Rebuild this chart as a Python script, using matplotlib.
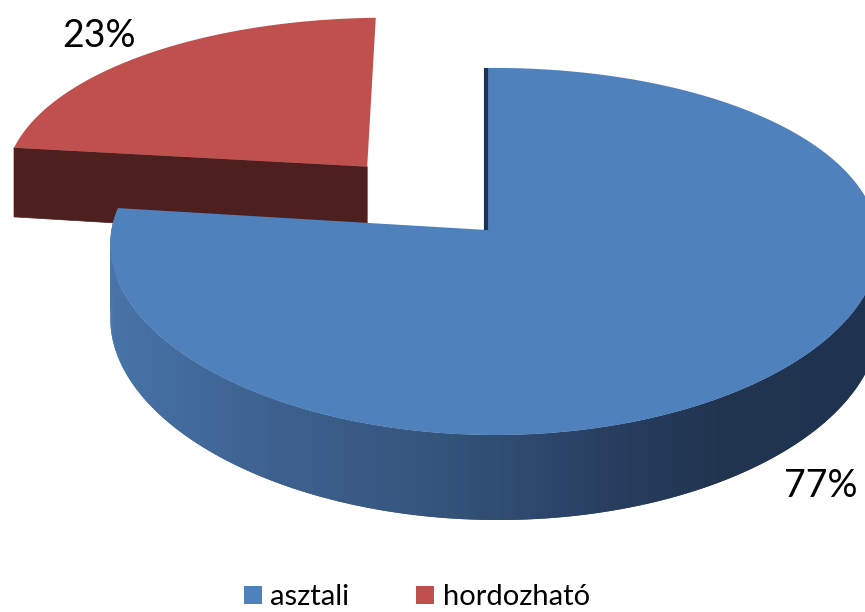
import numpy as np
import matplotlib
matplotlib.use("Agg")
import matplotlib.pyplot as plt
from matplotlib.patches import Polygon, Patch
from matplotlib.colors import to_rgb

plt.rcParams["font.family"] = ["Lato", "DejaVu Sans"]

# data
categories = ["asztali", "hordozható"]
shares = [77, 23]
explode = [0.0, 0.49]
top_colors = ["#4F81BD", "#C0504D"]
cut_colors = ["#1F3350", "#4E1F1F"]

# projection of the 3D disc (pixel units)
CX, CY = 487, 230
A, B, H = 383, 181, 75
KX, KY, M = 0.08, 0.117, 0.02

# side shading of the blue rim, by screen x
SIDE_X = [110, 200, 300, 450, 600, 720, 880]
SIDE_C = ["#4874A9", "#41699A", "#3C5F8C", "#33537A", "#283F61", "#20344F", "#1F3350"]


def project(u, v, z=0.0):
    u = np.asarray(u, float)
    v = np.asarray(v, float)
    dx = 1 + KX * v - M * u
    dy = 1 + KY * v - M * u
    x = CX + A * u / dx
    y = CY - B * v / dy + H * z / dy
    return x, y


def side_color(x):
    rgb = np.array([to_rgb(c) for c in SIDE_C])
    return tuple(np.interp(x, SIDE_X, rgb[:, i]) for i in range(3))


fig = plt.figure(figsize=(8.65, 6.12), dpi=100)
ax = fig.add_axes([0, 0, 1, 1])
ax.set_xlim(0, 865)
ax.set_ylim(612, 0)
ax.axis("off")

# slice angles, clockwise from 12 o'clock
spans = []
start = 90.0
for s in shares:
    end = start - 360.0 * s / sum(shares)
    spans.append((end, start))
    start = end

# exploded slice (drawn first, it sits behind)
t0, t1 = spans[1]
tb = np.radians((t0 + t1) / 2)
ou, ov = explode[1] * np.cos(tb), explode[1] * np.sin(tb)
ru, rv = ou + np.cos(np.radians(t1)), ov + np.sin(np.radians(t1))
xa, ya = project(ou, ov)
xab, yab = project(ou, ov, 1)
xr, yr = project(ru, rv)
xrb, yrb = project(ru, rv, 1)
ax.add_patch(Polygon([(xa, ya), (xr, yr), (xrb, yrb), (xab, yab)],
                     closed=True, fc=cut_colors[1], ec=cut_colors[1], lw=0.5))
t = np.radians(np.linspace(t0, t1, 200))
px, py = project(ou + np.cos(t), ov + np.sin(t))
ax.add_patch(Polygon(np.column_stack([np.r_[xa, px], np.r_[ya, py]]),
                     closed=True, fc=top_colors[1], ec="none"))

# main slice: rim strips back to front, then the top face
t0, t1 = spans[0]
edges = np.linspace(t0, 0.0, 260)
step = edges[1] - edges[0]
strips = []
for a, b in zip(edges[:-1], edges[1:]):
    tt = np.radians(np.linspace(a, b + step, 3))
    u, v = np.cos(tt), np.sin(tt)
    xt, yt = project(u, v)
    xb, yb = project(u, v, 1)
    pts = np.column_stack([np.r_[xt, xb[::-1]], np.r_[yt, yb[::-1]]])
    strips.append((np.sin(tt).mean(), pts, xt.mean()))
strips.sort(key=lambda s: -s[0])
for _, pts, xm in strips:
    c = side_color(xm)
    ax.add_patch(Polygon(pts, closed=True, fc=c, ec="none"))

xa, ya = project(0.0, 0.0)
xt, yt = project(0.0, 1.0)
ax.plot([xa - 1, xt - 1], [ya, yt], color=cut_colors[0], lw=3, solid_capstyle="butt")

t = np.radians(np.linspace(t0, t1, 400))
px, py = project(np.cos(t), np.sin(t))
ax.add_patch(Polygon(np.column_stack([np.r_[xa, px], np.r_[ya, py]]),
                     closed=True, fc=top_colors[0], ec="none"))

# percentage labels
ax.text(62, 47, f"{shares[1]}%", fontsize=27, color="#000000", ha="left", va="baseline")
ax.text(784, 497, f"{shares[0]}%", fontsize=27, color="#000000", ha="left", va="baseline")

handles = [Patch(facecolor=c, edgecolor="none") for c in top_colors]
fig.legend(handles, categories, loc="center", bbox_to_anchor=(0.482, 0.024),
           ncol=2, frameon=False, fontsize=21, handlelength=0.6, handleheight=0.6,
           handletextpad=0.3, columnspacing=2.3, borderpad=0)

fig.savefig("out.png", dpi=100)
